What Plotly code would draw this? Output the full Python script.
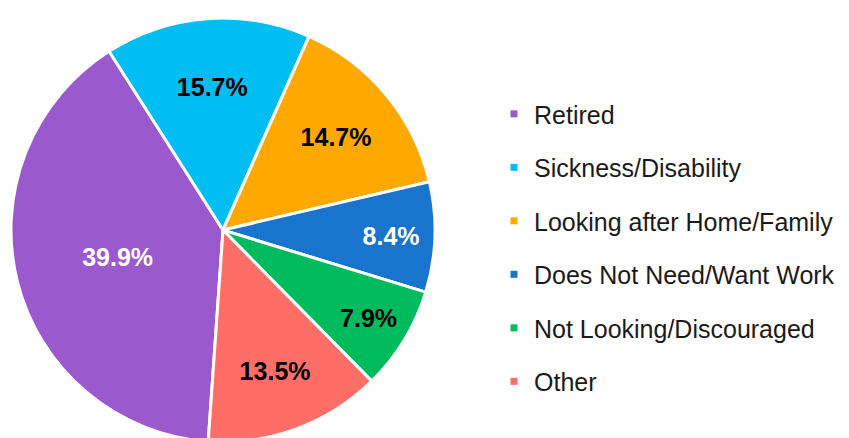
import plotly.graph_objects as go

labels = ["Retired", "Sickness/Disability", "Looking after Home/Family",
          "Does Not Need/Want Work", "Not Looking/Discouraged", "Other"]
values = [39.9, 15.7, 14.7, 8.4, 7.9, 13.5]
colors = ["#9B59CE", "#00BEF2", "#FFA800", "#1874CD", "#00BA5E", "#FF6E66"]
text_colors = ["white", "black", "black", "white", "black", "black"]

W, H = 849, 438

fig = go.Figure()

fig.add_trace(go.Pie(
    labels=labels, values=values,
    sort=False, direction="clockwise", rotation=184,
    marker=dict(colors=colors, line=dict(color="white", width=3)),
    texttemplate="%{value:.1f}%", textposition="inside",
    insidetextorientation="horizontal",
    insidetextfont=dict(family="Arial, Liberation Sans", size=25, color=text_colors, weight="bold"),
    domain=dict(x=[3 / W, 427 / W], y=[0.009, 0.977]),
    showlegend=False, hoverinfo="label+percent",
))

# legend entries, one per category so the spacing can be opened up
for lab, col in zip(labels, colors):
    fig.add_trace(go.Scatter(
        x=[None], y=[None], mode="markers", name=lab, legendgroup=lab,
        marker=dict(symbol="square", size=7, color=col),
    ))

fig.update_layout(
    width=W, height=H,
    margin=dict(l=0, r=0, t=0, b=0, autoexpand=False),
    paper_bgcolor="white", plot_bgcolor="white",
    xaxis=dict(visible=False), yaxis=dict(visible=False),
    legend=dict(x=486 / W, xanchor="left", y=0.453, yanchor="middle",
                traceorder="grouped", tracegroupgap=18,
                font=dict(family="Arial, Liberation Sans", size=25, color="#1a1a1a")),
)

fig.write_html("out.html")
